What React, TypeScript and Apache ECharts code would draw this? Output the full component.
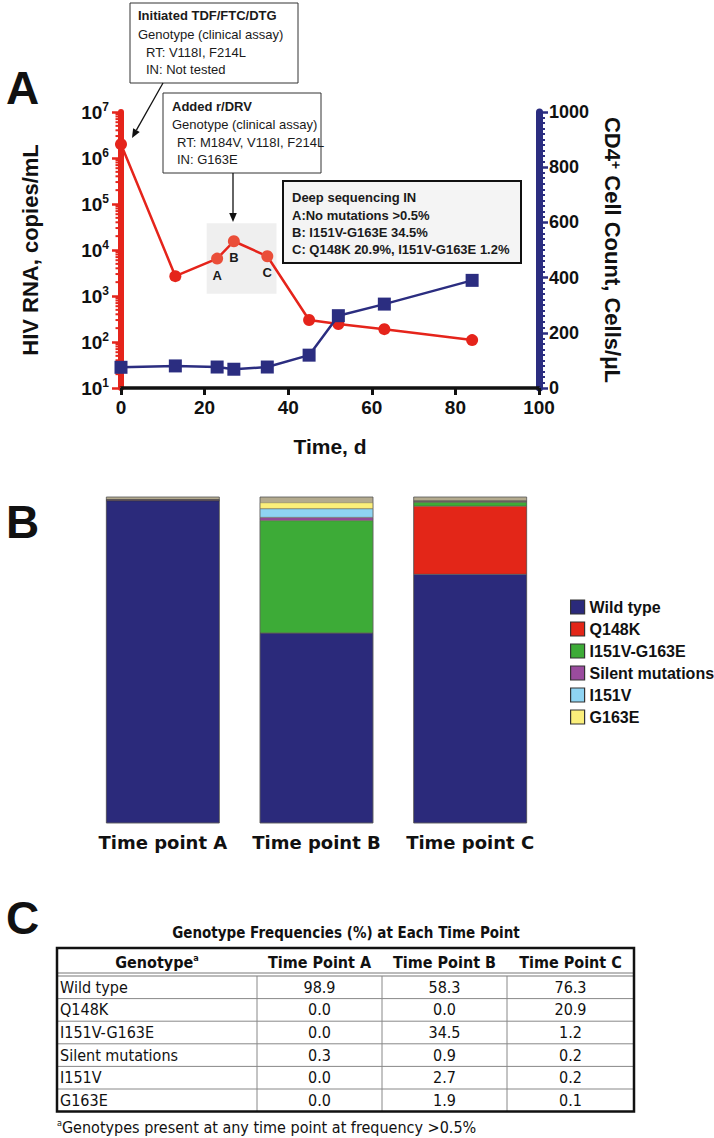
import React, { useEffect, useRef } from 'react';
import * as echarts from 'echarts';

// ---------- Panel A data ----------
const timeDays = [0, 13, 23, 27, 35, 45, 52, 63, 84];
const hivRna = [2000000, 2700, 6500, 15500, 7300, 300, 245, 190, 110];
const cd4Count = [75, 80, 76, 68, 76, 119, 262, 304, 390];
const pointLabels = ['', '', 'A', 'B', 'C', '', '', '', ''];

// ---------- Panel B / C data ----------
const timePoints = ['Time point A', 'Time point B', 'Time point C'];
const tableTimePoints = ['Time Point A', 'Time Point B', 'Time Point C'];
const genotypes = ['Wild type', 'Q148K', 'I151V-G163E', 'Silent mutations', 'I151V', 'G163E'];
const wildType = [98.9, 58.3, 76.3];
const q148k = [0.0, 0.0, 20.9];
const i151vG163e = [0.0, 34.5, 1.2];
const silentMut = [0.3, 0.9, 0.2];
const i151v = [0.0, 2.7, 0.2];
const g163e = [0.0, 1.9, 0.1];
const genotypeValues = [wildType, q148k, i151vG163e, silentMut, i151v, g163e];
const genotypeColors = ['#2b2a7b', '#e32618', '#3dab37', '#9a4c9e', '#8fd4f2', '#fbef7b'];

const RED = '#e5241b';
const NAVY = '#2b2d80';
const NARROW = "'Liberation Sans Narrow', 'DejaVu Sans Condensed', 'Liberation Sans', sans-serif";
const SANS = "'Liberation Sans', Arial, sans-serif";

function arrow(x1: number, y1: number, x2: number, y2: number) {
  const dx = x2 - x1, dy = y2 - y1;
  const len = Math.sqrt(dx * dx + dy * dy);
  const ux = dx / len, uy = dy / len;
  const bx = x2 - ux * 9, by = y2 - uy * 9;
  const px = -uy * 3.8, py = ux * 3.8;
  return [
    { type: 'line', shape: { x1, y1, x2: bx, y2: by }, style: { stroke: '#111', lineWidth: 1.3 } },
    { type: 'polygon', shape: { points: [[x2, y2], [bx + px, by + py], [bx - px, by - py]] }, style: { fill: '#111' } },
  ];
}

function boxText(x: number, y: number, text: string, bold: boolean, size = 13) {
  return {
    type: 'text', x, y,
    style: { text, fontSize: size, fontWeight: bold ? 'bold' : 'normal', fontFamily: SANS, fill: '#1a1a1a', align: 'left', verticalAlign: 'middle' },
  };
}

export default function App() {
  const ref = useRef<HTMLDivElement>(null);
  useEffect(() => {
    if (!ref.current) return;
    const chart = echarts.init(ref.current, undefined, { renderer: 'svg' });

    // log minor ticks (axis decoration)
    const minorTicks: number[] = [];
    for (let e = 1; e < 7; e++) for (let m = 2; m <= 9; m++) minorTicks.push(m * Math.pow(10, e));

    const graphics: any[] = [];
    const letter = (t: string, x: number, y: number) => ({
      type: 'text', x, y,
      style: { text: t, fontSize: 46, fontWeight: 'bold', fontFamily: SANS, fill: '#111', align: 'left', verticalAlign: 'middle' },
    });
    graphics.push(letter('A', 6, 88), letter('B', 6, 522), letter('C', 6, 918));

    // Box 1
    graphics.push({ type: 'rect', shape: { x: 130, y: 3, width: 168, height: 80 }, style: { fill: '#fff', stroke: '#333', lineWidth: 1 } });
    graphics.push(boxText(138, 15, 'Initiated TDF/FTC/DTG', true));
    graphics.push(boxText(138, 34, 'Genotype (clinical assay)', false));
    graphics.push(boxText(146, 52, 'RT: V118I, F214L', false));
    graphics.push(boxText(146, 69, 'IN: Not tested', false));
    graphics.push(...arrow(163, 83, 132, 138));

    // Box 2
    graphics.push({ type: 'rect', shape: { x: 163, y: 93, width: 158, height: 80 }, style: { fill: '#fff', stroke: '#333', lineWidth: 1 } });
    graphics.push(boxText(172, 106, 'Added r/DRV', true));
    graphics.push(boxText(172, 124, 'Genotype (clinical assay)', false));
    graphics.push(boxText(177, 142, 'RT: M184V, V118I, F214L', false));
    graphics.push(boxText(177, 159, 'IN: G163E', false));
    graphics.push(...arrow(233, 173, 233, 222));

    // Box 3
    graphics.push({ type: 'rect', shape: { x: 283, y: 181, width: 238, height: 82 }, style: { fill: '#f4f4f4', stroke: '#111', lineWidth: 2 } });
    graphics.push(boxText(292, 197, 'Deep sequencing IN', true, 13));
    graphics.push(boxText(292, 215, 'A:No mutations >0.5%', true, 13));
    graphics.push(boxText(292, 232, 'B: I151V-G163E 34.5%', true, 13));
    graphics.push(boxText(292, 249, 'C: Q148K 20.9%, I151V-G163E 1.2%', true, 13));

    // ---------- Table (panel C) ----------
    const colEdges = [57, 257, 382, 507, 634];
    const tTop = 948, headBottom = 975, rowH = 22.6;
    const tBottom = headBottom + rowH * genotypes.length + 1;
    graphics.push({
      type: 'text', x: 346, y: 933,
      style: { text: 'Genotype Frequencies (%) at Each Time Point', fontSize: 15, fontWeight: 'bold', fontFamily: NARROW, fill: '#111', align: 'center', verticalAlign: 'middle' },
    });
    graphics.push({ type: 'line', shape: { x1: colEdges[0], y1: headBottom - 2, x2: colEdges[4], y2: headBottom - 2 }, style: { stroke: '#777', lineWidth: 1 } });
    graphics.push({ type: 'line', shape: { x1: colEdges[0], y1: headBottom + 1, x2: colEdges[4], y2: headBottom + 1 }, style: { stroke: '#777', lineWidth: 1 } });
    for (let i = 1; i < genotypes.length; i++) {
      const y = headBottom + 1 + rowH * i;
      graphics.push({ type: 'line', shape: { x1: colEdges[0], y1: y, x2: colEdges[4], y2: y }, style: { stroke: '#888', lineWidth: 1 } });
    }
    for (let c = 1; c < 4; c++) {
      graphics.push({ type: 'line', shape: { x1: colEdges[c], y1: headBottom + 1, x2: colEdges[c], y2: tBottom }, style: { stroke: '#888', lineWidth: 1 } });
    }
    graphics.push({ type: 'rect', shape: { x: colEdges[0], y: tTop, width: colEdges[4] - colEdges[0], height: tBottom - tTop }, style: { fill: 'none', stroke: '#111', lineWidth: 2.5 } });
    graphics.push({
      type: 'text', x: (colEdges[0] + colEdges[1]) / 2, y: 962,
      style: {
        text: '{h|Genotype}{s|a}', align: 'center', verticalAlign: 'middle',
        rich: {
          h: { fontSize: 16, fontWeight: 'bold', fontFamily: NARROW, fill: '#111', lineHeight: 18 },
          s: { fontSize: 9, fontWeight: 'bold', fontFamily: NARROW, fill: '#111', verticalAlign: 'top', lineHeight: 9 },
        },
      },
    });
    tableTimePoints.forEach((t, i) => {
      graphics.push({
        type: 'text', x: (colEdges[i + 1] + colEdges[i + 2]) / 2, y: 962,
        style: { text: t, fontSize: 16, fontWeight: 'bold', fontFamily: NARROW, fill: '#111', align: 'center', verticalAlign: 'middle' },
      });
    });
    genotypes.forEach((g, r) => {
      const y = headBottom + 1 + rowH * r + rowH / 2;
      graphics.push({
        type: 'text', x: colEdges[0] + 3, y,
        style: { text: g, fontSize: 16, fontFamily: NARROW, fill: '#111', align: 'left', verticalAlign: 'middle' },
      });
      genotypeValues[r].forEach((v, c) => {
        graphics.push({
          type: 'text', x: (colEdges[c + 1] + colEdges[c + 2]) / 2, y,
          style: { text: v.toFixed(1), fontSize: 16, fontFamily: NARROW, fill: '#111', align: 'center', verticalAlign: 'middle' },
        });
      });
    });
    graphics.push({
      type: 'text', x: 57, y: 1127,
      style: {
        text: '{s|a}{t|Genotypes present at any time point at frequency >0.5%}', align: 'left', verticalAlign: 'middle',
        rich: {
          s: { fontSize: 9, fontFamily: NARROW, fill: '#111', verticalAlign: 'top', lineHeight: 9 },
          t: { fontSize: 16, fontFamily: NARROW, fill: '#111', lineHeight: 18 },
        },
      },
    });

    const option: any = {
      animation: false,
      backgroundColor: '#fff',
      grid: [
        { left: 121, top: 112, width: 418, height: 276, containLabel: false },
        { left: 86, top: 497, width: 461, height: 326, containLabel: false },
      ],
      xAxis: [
        {
          type: 'value', gridIndex: 0, min: 0, max: 100, interval: 20,
          axisLine: { show: true, onZero: false, lineStyle: { color: '#111', width: 3.5 } },
          axisTick: { show: true, length: 7, lineStyle: { color: '#111', width: 3 } },
          axisLabel: { color: '#111', fontSize: 19, fontWeight: 'bold', fontFamily: SANS, margin: 10 },
          splitLine: { show: false },
          name: 'Time, d', nameLocation: 'middle', nameGap: 48,
          nameTextStyle: { color: '#111', fontSize: 21, fontWeight: 'bold', fontFamily: SANS },
        },
        {
          type: 'category', gridIndex: 1, data: timePoints,
          axisLine: { show: false }, axisTick: { show: false },
          axisLabel: { interval: 0, hideOverlap: false, color: '#111', fontSize: 18, fontWeight: 'bold', fontFamily: "'DejaVu Sans', sans-serif", margin: 10 },
        },
      ],
      yAxis: [
        {
          type: 'log', gridIndex: 0, logBase: 10, min: 10, max: 10000000, splitNumber: 6,
          axisLine: { show: true, lineStyle: { color: RED, width: 6 } },
          axisTick: { show: true, length: 9, lineStyle: { color: RED, width: 2.5 } },
          axisLabel: {
            margin: 12,
            formatter: (v: number) => `{b|10}{s|${Math.round(Math.log10(v))}}`,
            rich: {
              b: { fontSize: 19, fontWeight: 'bold', fontFamily: SANS, color: '#111', lineHeight: 22 },
              s: { fontSize: 12, fontWeight: 'bold', fontFamily: SANS, color: '#111', verticalAlign: 'top', lineHeight: 12 },
            },
          },
          splitLine: { show: false },
          name: 'HIV RNA, copies/mL', nameLocation: 'middle', nameGap: 80, nameRotate: 90,
          nameTextStyle: { color: '#111', fontSize: 22, fontWeight: 'bold', fontFamily: SANS },
        },
        {
          type: 'value', gridIndex: 0, position: 'right', min: 0, max: 1000, interval: 200,
          axisLine: { show: true, lineStyle: { color: NAVY, width: 7 } },
          axisTick: { show: true, length: 9, lineStyle: { color: NAVY, width: 2.5 } },
          minorTick: { show: true, splitNumber: 10, length: 6, lineStyle: { color: NAVY, width: 2 } },
          axisLabel: { color: '#111', fontSize: 18, fontWeight: 'bold', fontFamily: SANS, margin: 10, formatter: (v: number) => String(v) },
          splitLine: { show: false },
          name: 'CD4{p|+} Cell Count, Cells/μL', nameLocation: 'middle', nameGap: 62, nameRotate: -90,
          nameTextStyle: {
            color: '#111', fontSize: 22, fontWeight: 'bold', fontFamily: SANS,
            rich: { p: { fontSize: 14, fontWeight: 'bold', fontFamily: SANS, color: '#111', verticalAlign: 'top', lineHeight: 12 } },
          },
        },
        { type: 'value', gridIndex: 1, min: 0, max: 100, show: false },
      ],
      legend: {
        data: genotypes,
        orient: 'vertical', left: 565, top: 594,
        itemWidth: 14, itemHeight: 14, itemGap: 6, icon: 'rect',
        itemStyle: { borderColor: '#333', borderWidth: 1.2 },
        textStyle: { color: '#111', fontSize: 16, fontWeight: 'bold', fontFamily: SANS },
      },
      graphic: graphics,
      series: [
        {
          type: 'custom', xAxisIndex: 0, yAxisIndex: 0, silent: true, clip: false, z: 1,
          data: minorTicks.map((v) => [0, v]),
          renderItem: (params: any, api: any) => {
            const p = api.coord([0, api.value(1)]);
            return { type: 'line', shape: { x1: p[0] - 5.5, y1: p[1], x2: p[0], y2: p[1] }, style: { stroke: RED, lineWidth: 2 } };
          },
        },
        {
          type: 'line', name: 'HIV RNA', xAxisIndex: 0, yAxisIndex: 0, z: 3,
          data: timeDays.map((t, i) => {
            const item: any = { value: [t, hivRna[i]] };
            if (pointLabels[i]) {
              item.itemStyle = { color: '#ea4e39' };
              item.label = { show: true, formatter: pointLabels[i], position: 'bottom', distance: 4, fontSize: 13, fontWeight: 'bold', fontFamily: SANS, color: '#1a1a1a' };
            }
            return item;
          }),
          symbol: 'circle', symbolSize: 12,
          lineStyle: { color: RED, width: 2.5 }, itemStyle: { color: RED },
          markArea: {
            silent: true,
            itemStyle: { color: '#efefef' },
            data: [[{ coord: [20.5, 38000] }, { coord: [37.2, 1120] }]],
          },
        },
        {
          type: 'line', name: 'CD4', xAxisIndex: 0, yAxisIndex: 1, z: 4,
          data: timeDays.map((t, i) => [t, cd4Count[i]]),
          symbol: 'rect', symbolSize: 13,
          lineStyle: { color: NAVY, width: 2.5 }, itemStyle: { color: NAVY },
        },
        ...genotypes.map((g, gi) => ({
          type: 'bar', name: g, xAxisIndex: 1, yAxisIndex: 2, stack: 'geno', barWidth: 113,
          data: genotypeValues[gi],
          itemStyle: { color: genotypeColors[gi], borderColor: 'rgba(70,70,70,0.6)', borderWidth: 0.5 },
          ...(gi === 0 ? { showBackground: true, backgroundStyle: { color: '#b3aa8e', borderColor: '#555', borderWidth: 0.8 } } : {}),
        })),
      ],
    };
    chart.setOption(option);
    return () => chart.dispose();
  }, []);
  return <div ref={ref} style={{ position: 'absolute', left: 0, top: 0, width: 714, height: 1138, background: '#fff' }} />;
}
